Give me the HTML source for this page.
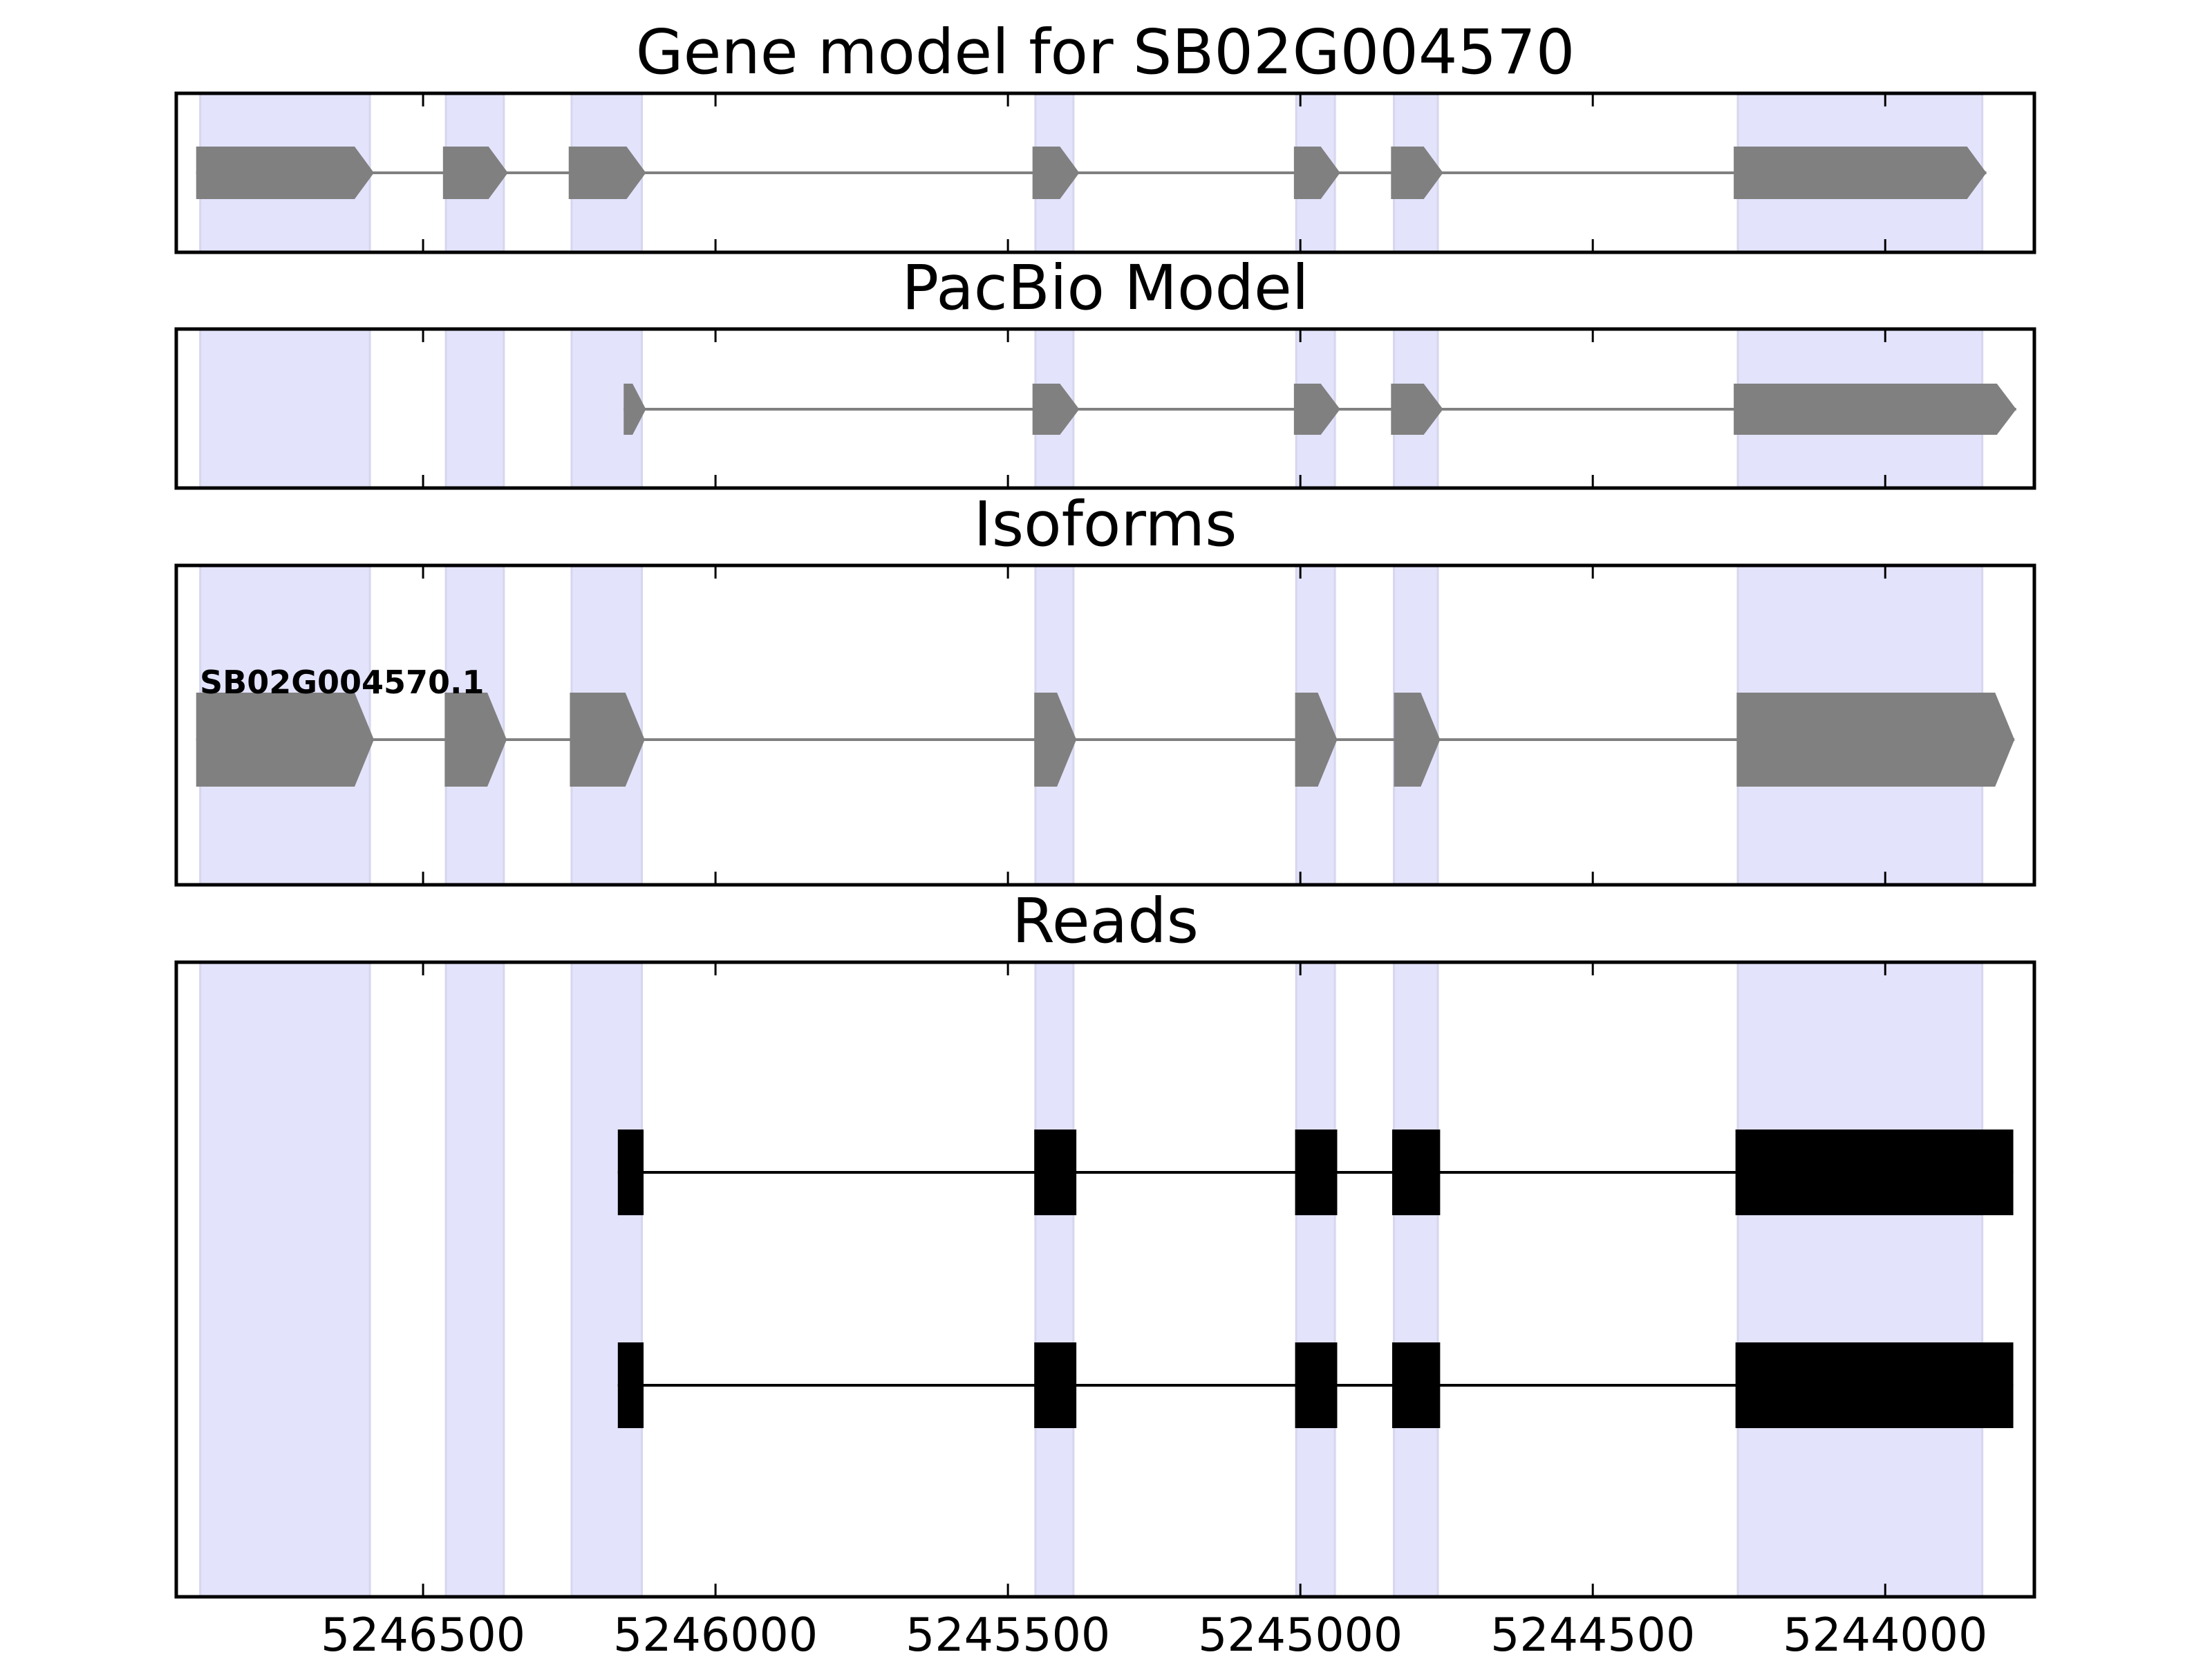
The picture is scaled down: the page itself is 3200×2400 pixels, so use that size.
<!DOCTYPE html>
<html><head><meta charset="utf-8"><style>html,body{margin:0;padding:0;background:#fff}svg{display:block}</style></head>
<body>
<svg id="chart" xmlns="http://www.w3.org/2000/svg" width="3200" height="2400" viewBox="0 0 3200 2400" font-family="DejaVu Sans, Liberation Sans, sans-serif"></svg>
<script>
const bands = [[5246881,5246591],[5246461,5246362],[5246246,5246126],[5245453,5245388],[5245007,5244941],[5244840,5244765],[5244252,5243834]];
const geneExons = [[5246888,5246584],[5246466,5246355],[5246251,5246119],[5245458,5245378],[5245011,5244932],[5244845,5244756],[5244259,5243827]];
const pacbioExons = [[5246157,5246119],[5245458,5245378],[5245011,5244932],[5244845,5244756],[5244259,5243776]];
const isoformExons = [[5246888,5246584],[5246463,5246357],[5246249,5246121],[5245455,5245383],[5245009,5244937],[5244840,5244761],[5244254,5243779]];
const readExons = [[5246167,5246123],[5245455,5245383],[5245009,5244937],[5244843,5244761],[5244256,5243781]];
const readRows = [1, 2];
const tickValues = [5246500,5246000,5245500,5245000,5244500,5244000];
const tickLabels = ["5246500","5246000","5245500","5245000","5244500","5244000"];
const titles = ["Gene model for SB02G004570","PacBio Model","Isoforms","Reads"];

const NS="http://www.w3.org/2000/svg";
const svg=document.getElementById('chart');
const X0=255,X1=2943,V0=5246922,V1=5243745;
function xs(v){return X0+(V0-v)/(V0-V1)*(X1-X0);}
function mk(tag,attrs,parent){const e=document.createElementNS(NS,tag);for(const k in attrs)e.setAttribute(k,attrs[k]);(parent||svg).appendChild(e);return e;}
const panels=[{t:135,b:365,name:'gene-model-panel'},{t:476,b:706,name:'pacbio-panel'},{t:818,b:1280,name:'isoforms-panel'},{t:1392,b:2310,name:'reads-panel'}];

panels.forEach((p,i)=>{
  const g=mk('g',{});
  
  
  bands.forEach((bd,j)=>{
    const a=xs(bd[0]),b=xs(bd[1]);
    const r=mk('rect',{x:a,y:p.t,width:b-a,height:p.b-p.t,fill:'#e3e3fc',stroke:'#d6d6ee','stroke-width':3},g);
    
    
  });
  const tt=mk('text',{x:1599,y:p.t-29,'text-anchor':'middle','font-size':89,fill:'#000'},g);
  tt.textContent=titles[i];
  
  
  p.g=g;
});

function drawGene(exons,yc,h,p,name){
  const g=mk('g',{},p.g);
  
  
  mk('line',{x1:xs(exons[0][0]),x2:xs(exons[exons.length-1][1]),y1:yc,y2:yc,stroke:'#808080','stroke-width':4},g);
  exons.forEach((e,j)=>{
    const a=xs(e[0]),b=xs(e[1]);const tip=Math.min(28,(b-a)*0.6);
    const pts=[[a,yc-h/2],[b-tip,yc-h/2],[b,yc],[b-tip,yc+h/2],[a,yc+h/2]].map(q=>q.join(',')).join(' ');
    const pg=mk('polygon',{points:pts,fill:'#808080'},g);
    
    
  });
}
drawGene(geneExons,250,76,panels[0],'gene-model-track');
drawGene(pacbioExons,592,74,panels[1],'pacbio-track');
drawGene(isoformExons,1070,136,panels[2],'isoform-track');
const lbl=mk('text',{x:289,y:1003,'font-size':46,'font-weight':'bold',fill:'#000'},panels[2].g);
lbl.textContent='SB02G004570.1';



readRows.forEach((r,i)=>{
  const yc=1696+(r-1)*308;
  const g=mk('g',{},panels[3].g);
  
  
  mk('line',{x1:xs(readExons[0][0]),x2:xs(readExons[readExons.length-1][1]),y1:yc,y2:yc,stroke:'#000','stroke-width':4},g);
  readExons.forEach((e,j)=>{
    const a=xs(e[0]),b=xs(e[1]);
    const rc=mk('rect',{x:a,y:yc-62,width:b-a,height:124,fill:'#000'},g);
    
    
  });
});

panels.forEach(p=>{
  const fr=mk('rect',{x:X0,y:p.t,width:X1-X0,height:p.b-p.t,fill:'none',stroke:'#000','stroke-width':5},p.g);
  
  
  tickValues.forEach(v=>{
    const x=xs(v);
    mk('line',{x1:x,x2:x,y1:p.t,y2:p.t+19,stroke:'#000','stroke-width':3},p.g);
    mk('line',{x1:x,x2:x,y1:p.b,y2:p.b-19,stroke:'#000','stroke-width':3},p.g);
  });
});
tickValues.forEach((v,i)=>{
  const t=mk('text',{x:xs(v),y:2388,'text-anchor':'middle','font-size':66.5,fill:'#000'});
  t.textContent=tickLabels[i];
  
  
});
</script>
</body></html>
